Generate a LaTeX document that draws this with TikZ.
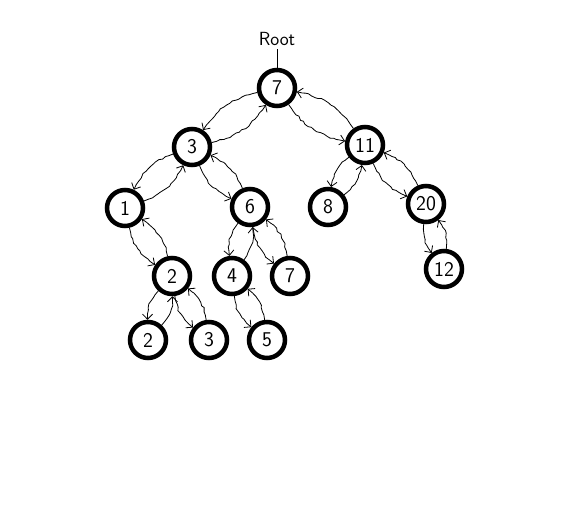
\documentclass[tikz,border=0pt]{standalone}
\usetikzlibrary{arrows.meta,decorations.pathmorphing}
\begin{document}
\begin{tikzpicture}[x=1pt,y=1pt,
  tnode/.style={circle,draw=black,line width=4.5pt,minimum size=36pt,inner sep=0pt,
    font=\sffamily\fontsize{21}{21}\selectfont},
  link/.style={line width=0.8pt,-{Straight Barb[length=5pt,width=10pt]},
    decorate,decoration={random steps,segment length=3.5pt,amplitude=0.9pt,pre length=5pt,post length=6pt},
    bend right=22}]
\pgfmathsetseed{7}
\useasboundingbox (0,0) rectangle (581,509);
\node[font=\sffamily\fontsize{19}{19}\selectfont] (root) at (277,470) {Root};
\node[tnode] (n7) at (277,421) {7};
\node[tnode] (n3) at (192,362) {3};
\node[tnode] (n11) at (365,364) {11};
\node[tnode] (n1) at (125,301) {1};
\node[tnode] (n6) at (250,302) {6};
\node[tnode] (n8) at (328,302) {8};
\node[tnode] (n20) at (426,305) {20};
\node[tnode] (n2) at (172,233) {2};
\node[tnode] (n4) at (232,233) {4};
\node[tnode] (n7b) at (290,233) {7};
\node[tnode] (n12) at (444,240) {12};
\node[tnode] (n2b) at (148,169) {2};
\node[tnode] (n3b) at (209,169) {3};
\node[tnode] (n5) at (267,169) {5};
\draw[line width=0.8pt] (root.south) -- (n7.north);
\foreach \p/\c in {n7/n3,n7/n11,n3/n1,n3/n6,n1/n2,n6/n4,n6/n7b,n2/n2b,n2/n3b,n4/n5,n11/n8,n11/n20,n20/n12}{
  \draw[link] (\p) to (\c);
  \draw[link] (\c) to (\p);
}
\end{tikzpicture}
\end{document}
